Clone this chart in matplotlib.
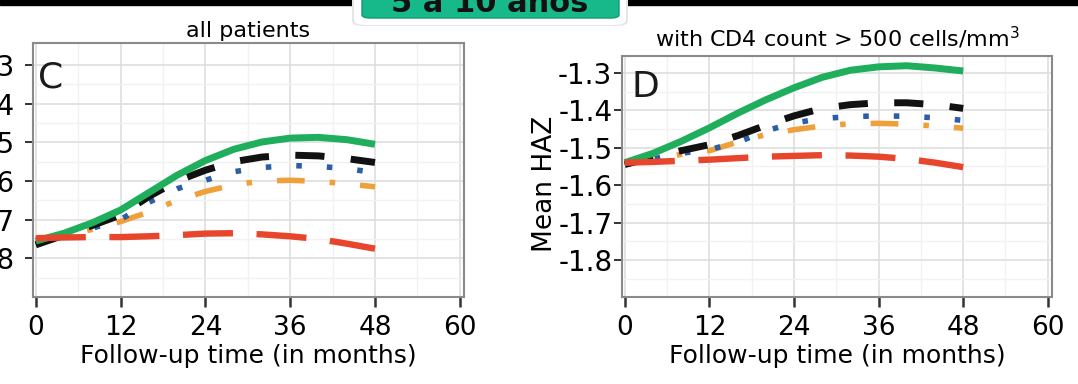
import matplotlib.pyplot as plt
from matplotlib.patches import Rectangle, FancyBboxPatch

# follow-up months
months = [0, 4, 8, 12, 16, 20, 24, 28, 32, 36, 40, 44, 48]

# panel C, all patients (mean HAZ)
c_green = [-1.755, -1.735, -1.708, -1.675, -1.630, -1.585, -1.547, -1.518, -1.499, -1.489, -1.487, -1.493, -1.505]
c_black = [-1.765, -1.740, -1.715, -1.688, -1.640, -1.600, -1.572, -1.550, -1.538, -1.533, -1.535, -1.542, -1.552]
c_blue = [-1.765, -1.745, -1.722, -1.700, -1.655, -1.620, -1.598, -1.576, -1.565, -1.560, -1.562, -1.568, -1.578]
c_orange = [-1.760, -1.742, -1.725, -1.705, -1.680, -1.650, -1.627, -1.610, -1.600, -1.598, -1.601, -1.607, -1.615]
c_red = [-1.748, -1.746, -1.745, -1.745, -1.743, -1.740, -1.736, -1.735, -1.738, -1.743, -1.750, -1.762, -1.775]

# panel D, CD4 > 500
d_green = [-1.540, -1.515, -1.483, -1.447, -1.408, -1.372, -1.340, -1.312, -1.293, -1.284, -1.281, -1.287, -1.295]
d_black = [-1.545, -1.525, -1.508, -1.492, -1.468, -1.440, -1.415, -1.395, -1.385, -1.380, -1.380, -1.385, -1.395]
d_blue = [-1.545, -1.530, -1.515, -1.505, -1.486, -1.455, -1.434, -1.422, -1.417, -1.415, -1.416, -1.420, -1.427]
d_orange = [-1.545, -1.530, -1.518, -1.508, -1.485, -1.465, -1.452, -1.442, -1.436, -1.435, -1.437, -1.442, -1.448]
d_red = [-1.540, -1.538, -1.535, -1.532, -1.528, -1.524, -1.522, -1.520, -1.521, -1.524, -1.530, -1.540, -1.552]

x_ticks = [0, 12, 24, 36, 48, 60]
y_ticks = [-1.3, -1.4, -1.5, -1.6, -1.7, -1.8]
y_ticklabels = ['-1.3', '-1.4', '-1.5', '-1.6', '-1.7', '-1.8']

plt.rcParams['lines.scale_dashes'] = False
plt.rcParams['font.family'] = 'DejaVu Sans'

fig = plt.figure(figsize=(10.78, 3.84), dpi=100)
W, H = 1078, 384


def px_axes(l, t, r, b):
    return fig.add_axes([l / W, 1 - b / H, (r - l) / W, (b - t) / H])


def draw_panel(ax, green, black, blue, orange, red, ylim, letter, lx, ly, title, tpad, ylab_pad):
    ax.plot(months, orange, color='#f0a03a', lw=4, dashes=(20, 18, 4, 18), dash_capstyle='butt')
    ax.plot(months, blue, color='#2b5ea7', lw=4, dashes=(4, 18), dash_capstyle='butt')
    ax.plot(months, black, color='#111111', lw=5, dashes=(21, 19), dash_capstyle='butt')
    ax.plot(months, green, color='#1fae5b', lw=5, solid_capstyle='butt')
    ax.plot(months, red, color='#e8462c', lw=4.6, dashes=(36, 17), dash_capstyle='butt')

    ax.set_xlim(-0.4, 60.6)
    ax.set_ylim(*ylim)
    ax.set_xticks(x_ticks)
    ax.set_xticks([6, 18, 30, 42, 54], minor=True)
    ax.set_yticks(y_ticks)
    ax.set_yticklabels(y_ticklabels)
    ax.set_yticks([-1.35, -1.45, -1.55, -1.65, -1.75, -1.85], minor=True)
    ax.grid(which='major', color='#dedede', lw=1.2)
    ax.grid(which='minor', color='#f2f2f2', lw=1.0)
    ax.set_axisbelow(True)
    ax.tick_params(which='minor', length=0)
    ax.tick_params(axis='x', labelsize=19, length=7, width=1.8, color='#333333', pad=6)
    ax.tick_params(axis='y', labelsize=20, length=6, width=1.4, color='#333333', pad=ylab_pad)
    for s in ax.spines.values():
        s.set_color('#8a8a8a')
        s.set_linewidth(1.5)
    ax.set_xlabel('Follow-up time (in months)', fontsize=18, labelpad=2)
    ax.set_title(title, fontsize=16, pad=tpad)
    ax.text(lx, ly, letter, transform=ax.transAxes, fontsize=26, color='#1a1a1a', va='top', ha='left')


ax1 = px_axes(33, 43, 464, 297)
draw_panel(ax1, c_green, c_black, c_blue, c_orange, c_red, (-1.90, -1.243), 'C', 0.012, 0.93,
           'all patients', 4.5, 7)

ax2 = px_axes(622, 56, 1052, 297)
draw_panel(ax2, d_green, d_black, d_blue, d_orange, d_red, (-1.899, -1.255), 'D', 0.022, 0.94,
           'with CD4 count > 500 cells/mm$^3$', 7, 1)
ax2.set_ylabel('Mean HAZ', fontsize=19)
ax2.yaxis.set_label_coords(-0.15, 0.47)

# top strip with the cut-off age banner
fig.add_artist(Rectangle((0, 1 - 5 / H), 1, 5 / H, transform=fig.transFigure, color='black', zorder=5))
fig.add_artist(FancyBboxPatch((352 / W, 1 - 26 / H), 276 / W, 40 / H, transform=fig.transFigure,
                              boxstyle='round,pad=0,rounding_size=0.012', fc='#e6e6e6', ec='none', zorder=6))
fig.add_artist(FancyBboxPatch((354 / W, 1 - 25 / H), 272 / W, 40 / H, transform=fig.transFigure,
                              boxstyle='round,pad=0,rounding_size=0.012', fc='white', ec='none', zorder=6))
fig.add_artist(FancyBboxPatch((362 / W, 1 - 18 / H), 257 / W, 30 / H, transform=fig.transFigure,
                              boxstyle='round,pad=0,rounding_size=0.008', fc='#17b889', ec='#0e9c72',
                              lw=1, zorder=7))
fig.text(490 / W, 1 - 12 / H, '5 a 10 anos', fontsize=22, fontweight='bold', color='#111111',
         ha='center', va='baseline', zorder=8)

fig.savefig('out.png', dpi=100)
